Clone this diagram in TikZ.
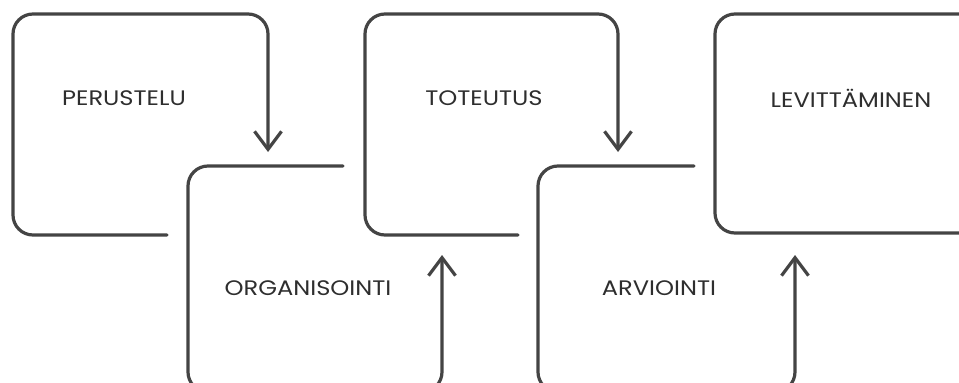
\documentclass[tikz,border=0pt]{standalone}
\usepackage{fontspec}
\setmainfont{Poppins}[FakeStretch=1.15]
\usetikzlibrary{arrows.meta}
\definecolor{inkgray}{HTML}{444444}
\definecolor{txtgray}{HTML}{2E2E2E}

\begin{document}
\begin{tikzpicture}[x=1pt,y=-1pt,
    line width=3.2pt, line cap=round, line join=round,
    flow/.style={draw=inkgray, rounded corners=20pt,
                 -{Straight Barb[length=18pt,width=27pt]}},
    frame/.style={draw=inkgray, rounded corners=20pt},
    lab/.style={font=\fontsize{21}{24}\selectfont, text=txtgray, inner sep=0pt}]
  \useasboundingbox (0,0) rectangle (959,383);
  \clip (0,0) rectangle (959,383);
  % ---- vaiheiden kehykset (avoimet, nuoli seuraavaan) ----
  \draw[flow] (167,235) -- (13,235) -- (13,14) -- (268,14) -- (268,152);   % perustelu
  \draw[flow] (343,166) -- (188,166) -- (188,392) -- (442,392) -- (442,255); % organisointi
  \draw[flow] (518,235) -- (365,235) -- (365,14) -- (618,14) -- (618,152); % toteutus
  \draw[flow] (694,166) -- (538,166) -- (538,392) -- (795,392) -- (795,255); % arviointi
  % ---- viimeinen kehys suljettu ----
  \draw[frame] (715,14) rectangle (980,233);                                % levittaminen
  % ---- tekstit ----
  \node[lab] (perustelu)    at (124,98)  {PERUSTELU};
  \node[lab] (organisointi) at (308,288) {ORGANISOINTI};
  \node[lab] (toteutus)     at (484,98)  {TOTEUTUS};
  \node[lab] (arviointi)    at (659,288) {ARVIOINTI};
  \node[lab] (levittaminen) at (851,98)  {LEVITTÄMINEN};
\end{tikzpicture}
\end{document}
